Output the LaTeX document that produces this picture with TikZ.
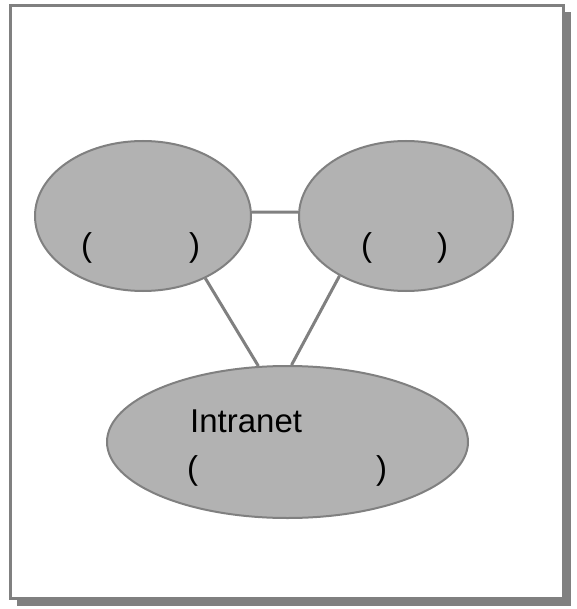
\documentclass[tikz,border=0pt]{standalone}
\usepackage{fontspec}
\setmainfont{Liberation Sans}
\usetikzlibrary{shapes.geometric}
\definecolor{edgegray}{HTML}{808080}
\definecolor{bubblefill}{HTML}{B2B2B2}
\tikzset{
  bubble/.style={ellipse, draw=edgegray, fill=bubblefill, line width=2pt, inner sep=0pt},
  link/.style={draw=edgegray, line width=3pt},
  label/.style={inner sep=0pt, anchor=base west, font=\fontsize{33}{39}\selectfont, text=black},
}
\begin{document}
\begin{tikzpicture}[x=1pt, y=-1pt]
  \useasboundingbox (0,0) rectangle (576,609);
  % page frame with drop shadow
  \fill[edgegray] (17,12) rectangle (571,606);
  \draw[edgegray, line width=2.5pt, fill=white] (10.5,5.5) rectangle (563.5,598.5);

  % network bubbles
  \node[bubble, minimum width=216pt, minimum height=150pt] (L) at (143,216) {};
  \node[bubble, minimum width=214pt, minimum height=150pt] (R) at (406,216) {};
  \node[bubble, minimum width=361pt, minimum height=152pt] (B) at (287.5,442) {};

  % links between the bubbles
  \draw[link] (L.2) -- (R.178);
  \draw[link] (L.-45) -- (B.111);
  \draw[link] (R.222) -- (B.87);

  % labels
  \node[label] (Lt) at (81,256) {(\hspace{97pt})};
  \node[label] (Rt) at (361,256) {(\hspace{65pt})};
  \node[label] (Bt1) at (190,432) {Intranet};
  \node[label] (Bt2) at (187,479) {(\hspace{178pt})};
\end{tikzpicture}
\end{document}
